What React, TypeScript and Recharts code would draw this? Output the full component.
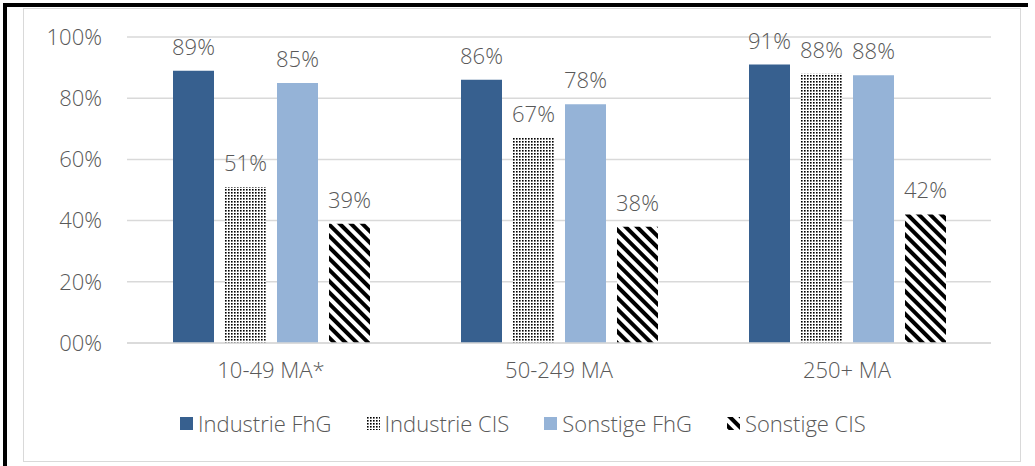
import { BarChart, Bar, XAxis, YAxis, CartesianGrid, LabelList } from "recharts";

const categories = ["10-49 MA*", "50-249 MA", "250+ MA"];
const industrieFhG = [89, 86, 91];
const industrieCIS = [51, 67, 88];
const sonstigeFhG = [85, 78, 87.5];
const sonstigeCIS = [39, 38, 42];
const yTicks = [0, 20, 40, 60, 80, 100];

const data = categories.map((name, i) => ({
  name,
  industrieFhG: industrieFhG[i],
  industrieCIS: industrieCIS[i],
  sonstigeFhG: sonstigeFhG[i],
  sonstigeCIS: sonstigeCIS[i],
}));

const FONT = '"Open Sans", "Noto Sans", sans-serif';
const TEXT = "#595959";
const GRID = "#d9d9d9";
const FS = 22;

const series = [
  { key: "industrieFhG", label: "Industrie FhG", fill: "#37608f" },
  { key: "industrieCIS", label: "Industrie CIS", fill: "url(#dots)" },
  { key: "sonstigeFhG", label: "Sonstige FhG", fill: "#95b3d7" },
  { key: "sonstigeCIS", label: "Sonstige CIS", fill: "url(#stripes)" },
];

const pct = (v: number) => `${String(Math.round(v)).padStart(2, "0")}%`;

function Patterns() {
  return (
    <svg width={0} height={0} style={{ position: "absolute" }}>
      <defs>
        <pattern id="dots" width={3} height={3} patternUnits="userSpaceOnUse">
          <rect width={3} height={3} fill="#fff" />
          <rect x={0} y={0} width={1.6} height={1.6} fill="#000" />
        </pattern>
        <pattern
          id="stripes"
          width={8}
          height={8}
          patternUnits="userSpaceOnUse"
          patternTransform="rotate(-45)"
        >
          <rect width={8} height={8} fill="#fff" />
          <rect x={0} y={0} width={4} height={8} fill="#000" />
        </pattern>
      </defs>
    </svg>
  );
}

function ChartLegend() {
  return (
    <div
      style={{
        position: "absolute",
        left: 180,
        top: 408,
        display: "flex",
        gap: 35,
        fontFamily: FONT,
        fontWeight: 300,
        fontSize: FS,
        color: TEXT,
        whiteSpace: "nowrap",
      }}
    >
      {series.map((s) => (
        <div key={s.key} style={{ display: "flex", alignItems: "center" }}>
          <svg width={13} height={13} style={{ marginRight: 5 }}>
            <rect width={13} height={13} fill={s.fill} />
          </svg>
          <span>{s.label}</span>
        </div>
      ))}
    </div>
  );
}

export default function App() {
  const tickStyle = { fill: TEXT, fontSize: FS, fontFamily: FONT, fontWeight: 300 };
  return (
    <div
      style={{
        position: "absolute",
        left: 0,
        top: 0,
        width: 1035,
        height: 466,
        background: "#fff",
        overflow: "hidden",
      }}
    >
      <Patterns />
      <div style={{ position: "absolute", left: 3, top: 3, width: 1025, height: 4, background: "#000" }} />
      <div style={{ position: "absolute", left: 3, top: 3, width: 4, height: 463, background: "#000" }} />
      <div
        style={{
          position: "absolute",
          left: 23,
          top: 8,
          width: 996,
          height: 452,
          border: `1.5px solid ${GRID}`,
        }}
      />
      <div style={{ position: "absolute", left: 0, top: 0 }}>
        <BarChart
          width={1035}
          height={466}
          data={data}
          margin={{ top: 37, right: 44, left: 27, bottom: 0 }}
          barSize={41}
          barGap={11}
        >
          <CartesianGrid vertical={false} stroke={GRID} strokeWidth={1.5} />
          <XAxis
            dataKey="name"
            height={123}
            tickLine={false}
            axisLine={{ stroke: GRID, strokeWidth: 1.5 }}
            tickMargin={13}
            tick={tickStyle}
          />
          <YAxis
            width={100}
            domain={[0, 100]}
            ticks={yTicks}
            tickFormatter={pct}
            tickLine={false}
            axisLine={false}
            tickMargin={19}
            tick={tickStyle}
          />
          {series.map((s) => (
            <Bar key={s.key} dataKey={s.key} fill={s.fill} isAnimationActive={false}>
              <LabelList
                dataKey={s.key}
                position="top"
                offset={16}
                formatter={(v: number) => pct(v)}
                fill={TEXT}
                fontSize={FS}
                fontFamily={FONT}
                fontWeight={300}
              />
            </Bar>
          ))}
        </BarChart>
      </div>
      <ChartLegend />
    </div>
  );
}
